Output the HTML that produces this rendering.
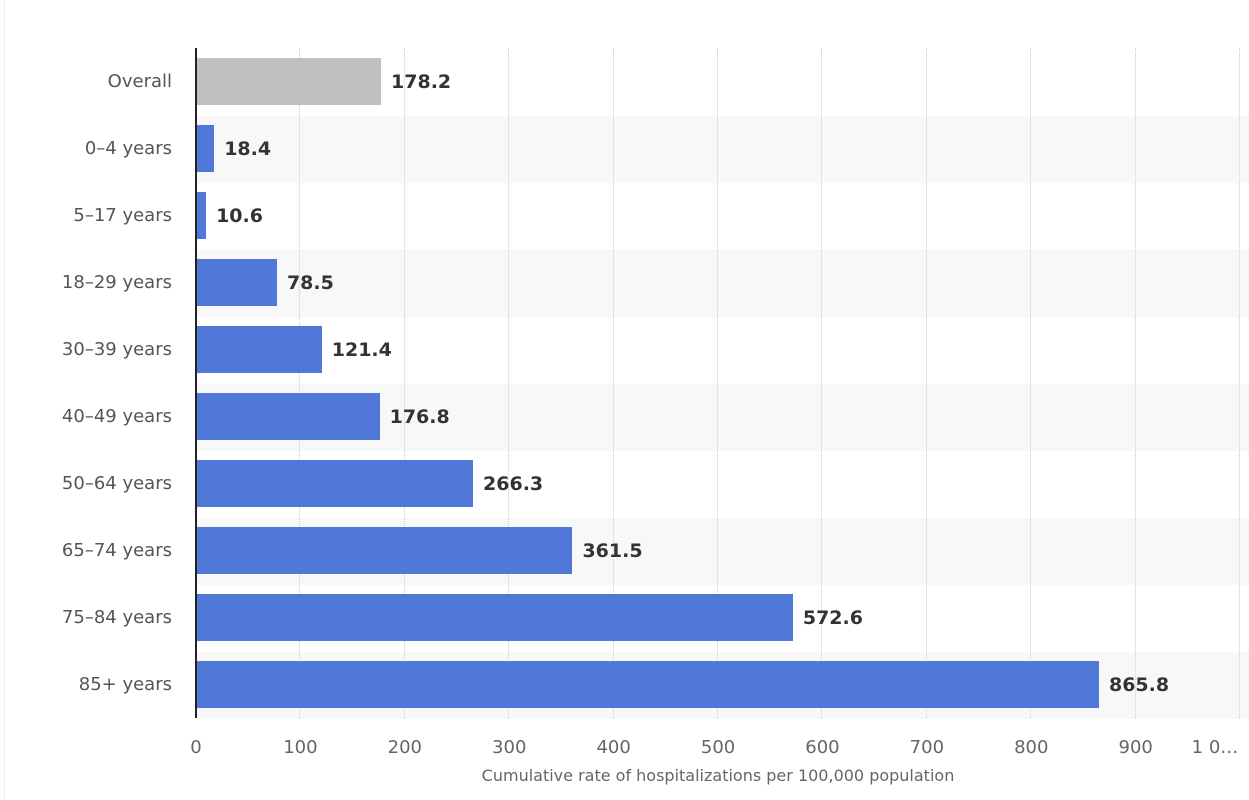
<!DOCTYPE html><html><head><style>
body{margin:0;width:1249px;height:775px;overflow:hidden;background:#fff;font-family:"DejaVu Sans","Liberation Sans",sans-serif;position:relative}
.card{position:absolute;left:4px;top:0;width:1260px;height:800px;border-left:1px solid #eee}
.band{position:absolute;left:195px;width:1054px;height:67px}
.bar{position:absolute;left:195px;height:47px;background:#5078d9}
.val{position:absolute;font-size:19px;font-weight:bold;color:#333;line-height:20px}
.lab{position:absolute;right:1077px;font-size:18px;color:#555;line-height:20px;text-align:right;white-space:nowrap}
.grid{position:absolute;top:48px;height:670px;border-left:1px dotted #ccc}
.tick{position:absolute;top:737px;font-size:18px;color:#666;transform:translateX(-50%);white-space:nowrap}
</style></head><body><div class="card"></div>
<div id="c"></div>
<script>
var d=[["Overall",178.2],["0–4 years",18.4],["5–17 years",10.6],["18–29 years",78.5],["30–39 years",121.4],["40–49 years",176.8],["50–64 years",266.3],["65–74 years",361.5],["75–84 years",572.6],["85+ years",865.8]];
var s=1.0441,h="";
d.forEach(function(r,i){var y=49+67*i;if(i%2)h+='<div class="band" style="top:'+y+'px;background:#f8f8f8"></div>';});
for(var k=1;k<=10;k++)h+='<div class="grid" style="left:'+(195+k*104.41)+'px"></div>';
d.forEach(function(r,i){var y=49+67*i,w=r[1]*s;
h+='<div class="bar" style="top:'+(y+9)+'px;width:'+w+'px;'+(i==0?'background:#c0c0c0':'')+'"></div>';
h+='<div class="val" style="left:'+(195+w+10)+'px;top:'+(y+23)+'px">'+r[1]+'</div>';
h+='<div class="lab" style="top:'+(y+23)+'px">'+r[0]+'</div>';});
for(var k=0;k<=9;k++)h+='<div class="tick" style="left:'+(196+k*104.41)+'px">'+(k*100)+'</div>';
h+='<div class="tick" style="left:1215px">1 0…</div>';
h+='<div style="position:absolute;left:195px;top:48px;height:670px;border-left:2px solid #222"></div>';
h+='<div style="position:absolute;left:718px;top:766px;transform:translateX(-50%);font-size:16px;color:#666;white-space:nowrap">Cumulative rate of hospitalizations per 100,000 population</div>';
document.getElementById("c").innerHTML=h;
</script></body></html>
